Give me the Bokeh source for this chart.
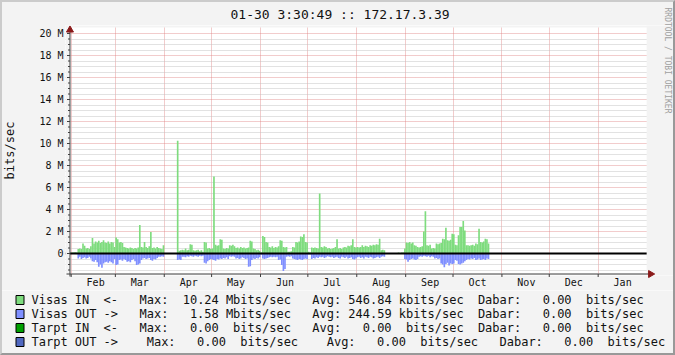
import math
from bokeh.plotting import figure
from bokeh.layouts import column
from bokeh.models import (Range1d, FixedTicker, CustomJSTickFormatter, Span,
                          ColumnDataSource)
from bokeh.core.properties import value
from bokeh.embed import file_html
from bokeh.resources import INLINE

# ---------------- data (M bits/sec, one value per day) ----------------
months = ["Feb", "Mar", "Apr", "May", "Jun", "Jul", "Aug", "Sep", "Oct", "Nov", "Dec", "Jan"]
month_days = [28, 31, 30, 31, 30, 31, 31, 30, 31, 30, 31, 31]

feb_in = [0.1, 0.1, 0.12, 0.1, 0.4, 0.45, 0.4, 0.9, 0.7, 0.45, 0.5, 0.4, 0.65, 1.4,
          0.9, 1.1, 1.0, 1.15, 0.95, 1.05, 1.2, 1.0, 0.95, 1.1, 0.9, 1.05, 1.0, 0.6]
feb_out = [0, 0, 0, 0, 0.45, 0.3, 0.5, 0.4, 0.35, 0.45, 0.4, 0.3, 0.45, 0.7,
           0.75, 0.6, 0.8, 1.2, 1.0, 1.3, 0.9, 0.8, 0.75, 0.85, 0.7, 0.8, 0.9, 0.5]
mar_in = [1.45, 1.3, 1.0, 1.05, 0.95, 0.6, 0.55, 0.5, 0.45, 0.55, 0.5, 0.4, 0.5, 0.45,
          0.55, 2.6, 0.6, 0.55, 1.05, 0.6, 0.5, 0.65, 1.95, 0.5, 0.55, 0.45, 0.6, 0.5,
          0.45, 0.4, 0.75]
mar_out = [1.05, 1.0, 0.6, 0.55, 0.65, 0.5, 0.6, 0.75, 0.7, 0.8, 0.6, 0.5, 0.7, 1.05,
           1.0, 0.9, 0.6, 0.45, 0.4, 0.5, 0.45, 0.4, 0.6, 0.65, 0.5, 0.55, 0.4, 0.3,
           0.3, 0.25, 0.3]
apr_in = [None] * 8 + [10.24, 0.25, 0.3, 0.35, 0.3, 0.45, 0.3, 0.35, 0.85, 0.8, 0.3, 0.25,
                       0.3, 0.35, 0.2, 0.3, 0.15, 1.05, 1.0, 0.45, 0.5, 0.4]
apr_out = [None] * 8 + [0.6, 0.55, 0.6, 0.3, 0.3, 0.35, 0.25, 0.3, 0.2, 0.25, 0.3, 0.2,
                        0.25, 0.3, 0.2, 0.25, 0.2, 0.85, 0.9, 0.7, 0.6, 0.5]
may_in = [0.45, 7.0, 0.8, 0.7, 0.75, 1.3, 1.25, 0.45, 0.4, 0.5, 0.45, 0.75, 0.7, 0.8,
          0.65, 0.5, 0.55, 0.45, 0.6, 0.5, 0.55, 0.45, 0.5, 0.55, 1.15, 1.1, 0.45, 0.4,
          0.3, 0.35, 0.25]
may_out = [0.55, 0.6, 0.65, 0.5, 0.55, 0.45, 0.5, 0.4, 0.45, 0.35, 0.5, 0.25, 0.3, 0.25,
           0.3, 0.45, 0.4, 0.5, 0.45, 0.35, 0.4, 0.5, 0.45, 1.2, 1.15, 0.6, 0.45, 0.5,
           0.4, 0.45, 0.35]
jun_in = [0.1, 1.6, 1.5, 1.05, 1.0, 0.6, 0.55, 0.65, 0.5, 0.6, 0.55, 0.65, 1.2, 1.15,
          0.6, 0.55, 0.6, 0.15, 0.15, 0.2, 0.6, 0.55, 1.05, 1.0, 1.1, 1.55, 1.5, 1.75,
          1.05, 1.0]
jun_out = [0.1, 0.45, 0.5, 0.45, 0.4, 0.35, 0.3, 0.35, 0.3, 0.35, 0.3, 0.6, 0.55, 1.05,
           1.58, 1.4, 0.3, 0.25, 0.3, 0.25, 0.45, 0.5, 0.55, 0.6, 0.5, 0.55, 0.6, 0.5,
           0.45, 0.5]
jul_in = [0.15, 0.1, 0.55, 0.5, 0.55, 0.5, 0.45, 5.45, 0.6, 0.55, 0.65, 0.6, 0.45, 0.5,
          0.4, 0.45, 0.5, 0.6, 1.3, 0.45, 0.5, 0.4, 0.55, 0.6, 0.55, 0.7, 0.65, 0.75,
          1.3, 0.6, 0.55]
jul_out = [0.1, 0.1, 0.5, 0.4, 0.45, 0.35, 0.4, 0.3, 0.35, 0.3, 0.4, 0.35, 0.25, 0.3,
           0.35, 0.3, 0.4, 0.35, 0.3, 0.4, 0.45, 0.3, 0.35, 0.4, 0.3, 0.45, 0.4, 0.35,
           0.5, 0.55, 0.45]
aug_in = [0.6, 0.55, 0.6, 0.75, 0.6, 0.7, 0.65, 0.6, 0.75, 0.7, 0.8, 0.75, 0.85, 0.8,
          1.35, 0.3, 0.35, 0.3] + [None] * 8 + [0.1, None, 0.1, 0.1, 0.45]
aug_out = [0.35, 0.3, 0.4, 0.35, 0.45, 0.3, 0.35, 0.4, 0.3, 0.35, 0.45, 0.4, 0.35, 0.3,
           0.4, 0.3, 0.25, 0.3] + [None] * 8 + [0.0, None, 0.0, 0.0, 0.5]
sep_in = [1.0, 0.95, 1.05, 0.9, 1.0, 0.75, 0.7, 0.6, 0.55, 0.6, 0.65, 2.0, 3.85, 0.75,
          0.7, 0.8, 0.45, 0.5, 0.45, 0.9, 0.85, 0.9, 0.95, 1.35, 1.3, 2.35, 1.2, 1.15,
          1.25, 1.8]
sep_out = [0.55, 0.75, 0.6, 0.5, 0.45, 0.55, 0.6, 0.5, 0.3, 0.25, 0.3, 0.2, 0.25, 0.3,
           0.2, 0.35, 0.25, 0.3, 0.45, 0.4, 0.5, 0.45, 0.9, 1.0, 1.25, 0.95, 0.85, 1.1,
           0.9, 0.95]
oct_in = [1.75, 0.8, 0.75, 1.65, 2.4, 2.4, 2.95, 2.1, 0.75, 0.75, 0.7, 0.75, 0.8, 0.7,
          0.9, 0.85, 2.25, 1.05, 1.0, 1.1, 1.35, 1.3, 0.9]
oct_out = [0.9, 0.6, 0.65, 0.95, 1.0, 0.9, 0.85, 0.7, 0.6, 0.5, 0.55, 0.45, 0.5, 0.4,
           0.6, 0.55, 0.45, 0.6, 0.55, 0.5, 0.6, 0.45, 0.5]

in_by_month = [feb_in, mar_in, apr_in, may_in, jun_in, jul_in, aug_in, sep_in, oct_in]
out_by_month = [feb_out, mar_out, apr_out, may_out, jun_out, jul_out, aug_out, sep_out, oct_out]

y_major = [0, 2, 4, 6, 8, 10, 12, 14, 16, 18, 20]
y_minor = [-1.5, -1, -0.5] + [m + d for m in y_major[:-1] for d in (0.5, 1.0, 1.5)]

title_text = "01-30 3:30:49 :: 172.17.3.39"
watermark = "RRDTOOL / TOBI OETIKER"
series_names = ["Visas IN  <-", "Visas OUT ->", "Tarpt IN  <-", "Tarpt OUT ->"]
series_colors = ["#7edc7e", "#7f8fff", "#00a000", "#5068c0"]
max_vals = [10.24, 1.58, 0.00, 0.00]
max_units = ["M", "M", " ", " "]
avg_vals = [546.84, 244.59, 0.00, 0.00]
avg_units = ["k", "k", " ", " "]
cur_vals = [0.00, 0.00, 0.00, 0.00]

# ---------------- layout constants (canvas pixels) ----------------
MONO = "DejaVu Sans Mono"
BG = "#f3f3f3"
AXC = "#404040"
ARROW = "#8b1a1a"
KX, X0 = 1.5856, 67.7     # px per day, canvas x of day 0
KY, Y0 = 11.0, 253.0      # px per M, canvas y of zero
FL, FR, FT, FBT = 62, 675, 25, 275   # frame edges
TOP_H = 290


def dx(cx):
    return (cx - X0) / KX


def dy(cy):
    return (Y0 - cy) / KY


# ---------------- build ----------------
starts = []
acc = 0
for n in month_days:
    starts.append(acc)
    acc += n
mids = [s + 15.5 for s in starts]

xs, ins, outs = [], [], []
for s, vi, vo in zip(starts, in_by_month, out_by_month):
    for i, (a, b) in enumerate(zip(vi, vo)):
        xs.append(s + i + 0.5)
        ins.append(float("nan") if a is None else a)
        outs.append(float("nan") if b is None else -b)
src = ColumnDataSource(dict(x=xs, vin=ins, vout=outs))

p = figure(width=675, height=TOP_H, x_range=Range1d(dx(FL), dx(FR)),
           y_range=Range1d(dy(FBT), dy(FT)),
           output_backend="svg", toolbar_location=None,
           min_border_left=FL, min_border_right=675 - FR, min_border_top=FT,
           min_border_bottom=TOP_H - FBT,
           background_fill_color="white", border_fill_color=BG)
p.outline_line_color = None

# title
p.title.text = title_text
p.title.text_font = MONO
p.title.text_font_size = "13px"
p.title.text_font_style = "normal"
p.title.text_color = "#111111"
p.title.align = "left"
p.title.offset = 165
p.title.standoff = 7

# grids
p.xgrid.ticker = FixedTicker(ticks=starts)
p.xgrid.grid_line_color = "#e08080"
p.xgrid.grid_line_alpha = 0.8
p.xgrid.grid_line_dash = "1 1"
yt = FixedTicker(ticks=y_major, minor_ticks=y_minor)
p.yaxis.ticker = yt
p.ygrid.ticker = yt
p.ygrid.grid_line_color = "#e08080"
p.ygrid.grid_line_alpha = 0.8
p.ygrid.grid_line_dash = "1 1"
p.ygrid.minor_grid_line_color = "#c0c0c0"
p.ygrid.minor_grid_line_alpha = 0.9
p.ygrid.minor_grid_line_dash = "1 1"

# grey strips around the white plot area (inside the frame)
p.quad(left=[dx(FL), dx(646), dx(FL), dx(FL)], right=[dx(67), dx(FR), dx(FR), dx(FR)],
       bottom=[dy(FBT), dy(FBT), dy(27), dy(FBT)], top=[dy(FT), dy(FT), dy(FT), dy(273)],
       fill_color=BG, line_color=None)

# bars
p.vbar(x="x", width=1.05, top="vin", bottom=0, source=src, fill_color=series_colors[0],
       line_color=None)
p.vbar(x="x", width=1.05, top=0, bottom="vout", source=src, fill_color=series_colors[1],
       line_color=None)
p.add_layout(Span(location=0, dimension="width", line_color="black", line_width=2))
# hide the part of the zero line over the side strips
p.quad(left=[dx(FL), dx(646)], right=[dx(66.5), dx(FR)], bottom=[dy(256)] * 2, top=[dy(250)] * 2,
       fill_color=BG, line_color=None, level="overlay")

# hand-drawn axis lines, ticks and arrows (rrdtool style)
p.segment(x0=[dx(66.5)] * len(y_major), x1=[dx(63.5)] * len(y_major), y0=y_major, y1=y_major,
          line_color=AXC, line_width=1, level="overlay")
p.segment(x0=[dx(66.5)] * len(y_minor), x1=[dx(64.5)] * len(y_minor), y0=y_minor, y1=y_minor,
          line_color=AXC, line_width=1, level="overlay")
p.segment(x0=starts, x1=starts, y0=[dy(273.5)] * len(starts), y1=[dy(276.5)] * len(starts),
          line_color=AXC, line_width=1, level="overlay")
p.segment(x0=[dx(66.5), dx(63)], x1=[dx(66.5), dx(650)], y0=[dy(276), dy(273.5)],
          y1=[dy(30), dy(273.5)], line_color=AXC, line_width=1, level="overlay")
p.scatter(x=[dx(66.5)], y=[dy(29.5)], marker="triangle", size=7, fill_color=ARROW,
          line_color=ARROW, level="overlay")
p.scatter(x=[dx(650)], y=[dy(273.5)], marker="triangle", angle=-math.pi / 2, size=7,
          fill_color=ARROW, line_color=ARROW, level="overlay")

# watermark (vertical, top to bottom)
p.text(x=[dx(667)], y=[dy(60)], text=[watermark], angle=-math.pi / 2,
       text_font=value(MONO), text_font_size="8px", text_color="#a0a0a0",
       text_align="center", text_baseline="middle", level="overlay")

# axes (labels only, lines drawn above)
for ax in (p.xaxis[0], p.yaxis[0]):
    ax.axis_line_color = None
    ax.major_tick_line_color = None
    ax.minor_tick_line_color = None
    ax.major_tick_out = 0
    ax.major_tick_in = 0
    ax.minor_tick_out = 0
    ax.minor_tick_in = 0
    ax.major_label_text_font = MONO
    ax.major_label_text_font_size = "10px"
    ax.major_label_text_color = "#111111"

p.xaxis.ticker = FixedTicker(ticks=mids)
p.xaxis.formatter = CustomJSTickFormatter(args=dict(names=months, pos=mids),
                                          code="const i = pos.indexOf(tick); return i >= 0 ? names[i] : '';")
p.xaxis.major_label_standoff = 1

p.yaxis.formatter = CustomJSTickFormatter(code="return tick == 0 ? '0' : tick.toFixed(0) + ' M';")
p.yaxis.major_label_standoff = 2
p.yaxis.axis_label = "bits/sec"
p.yaxis.axis_label_text_font = MONO
p.yaxis.axis_label_text_font_size = "12px"
p.yaxis.axis_label_text_font_style = "normal"
p.yaxis.axis_label_text_color = "#111111"
p.yaxis.axis_label_standoff = 19

# ---------------- legend strip (canvas-pixel coordinates) ----------------
LEG_H = 355 - TOP_H
q = figure(width=675, height=LEG_H, x_range=Range1d(0, 675), y_range=Range1d(355, TOP_H),
           output_backend="svg", toolbar_location=None, x_axis_location=None,
           y_axis_location=None, min_border=0, background_fill_color=BG,
           border_fill_color=BG)
q.outline_line_color = None
q.grid.visible = False
for fig in (p, q):
    if "frame_align" in fig.properties():
        fig.frame_align = False

CW = 7.2
rows_y = [299, 313.2, 327.2, 341.2]
tx, ty, tt = [], [], []
for k in range(4):
    if k < 3:
        line = (f"{series_names[k]}   Max: {max_vals[k]:6.2f} {max_units[k]}bits/sec   "
                f"Avg: {avg_vals[k]:6.2f} {avg_units[k]}bits/sec  Dabar: {cur_vals[k]:6.2f}  bits/sec")
    else:
        line = (f"{series_names[k]}    Max: {max_vals[k]:6.2f}  bits/sec    "
                f"Avg: {avg_vals[k]:6.2f}  bits/sec   Dabar: {cur_vals[k]:6.2f}  bits/sec")
    i = 0
    while i < len(line):
        if line[i] == " ":
            i += 1
            continue
        j = i
        while j < len(line) and line[j] != " ":
            j += 1
        tx.append(31 + i * CW)
        ty.append(rows_y[k])
        tt.append(line[i:j])
        i = j

q.text(x=tx, y=ty, text=tt, text_font=value(MONO), text_font_size="12px",
       text_baseline="middle", text_align="left", text_color="#111111")
q.rect(x=[19.5] * 4, y=[round(r) + 0.5 for r in rows_y], width=8, height=9,
       fill_color=series_colors, line_color="black", line_width=1)

# rrdtool-style 3D image border (light top/left, dark bottom/right), drawn as an overlay
border_css = (":host { position: relative; } "
              ":host::after { content: ''; position: absolute; left: 0; top: 0; "
              "width: 675px; height: 355px; box-sizing: border-box; pointer-events: none; "
              "z-index: 100; border-style: solid; border-width: 2px; "
              "border-color: #cbcbcb #999999 #999999 #cbcbcb; }")
layout = column(p, q, spacing=0, stylesheets=[border_css])
open("out.html", "w").write(file_html(layout, INLINE))
